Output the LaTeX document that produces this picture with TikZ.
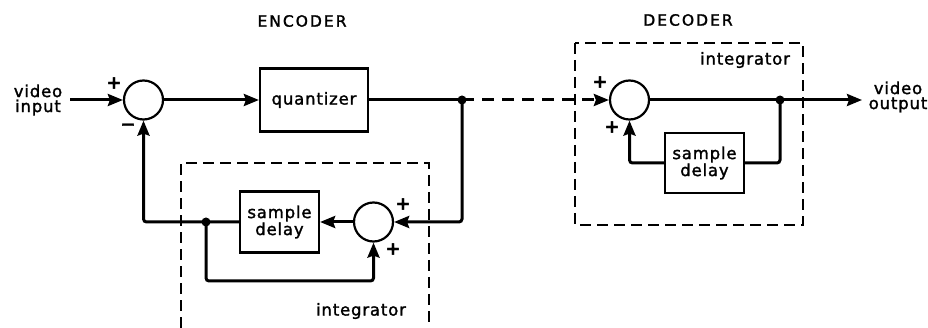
\documentclass[tikz,border=0pt]{standalone}
\usepackage{fontspec}
\setmainfont{DejaVu Sans}[LetterSpace=5,FakeBold=1.6]
\usetikzlibrary{arrows.meta}
\begin{document}
\begin{tikzpicture}[x=1pt,y=-1pt,
  every node/.style={font=\fontsize{16.5}{15}\selectfont},
  sumnode/.style={draw,circle,line width=2.2pt,minimum size=39pt,inner sep=0pt},
  blockbox/.style={draw,rectangle,line width=2.2pt,inner sep=0pt,align=center},
  sig/.style={line width=3pt,rounded corners=3pt},
  tip/.style={-{Stealth[length=15pt,width=12pt,inset=2pt]}},
  dashbox/.style={line width=2.2pt,dash pattern=on 11pt off 6pt},
  dot/.style={circle,fill,inner sep=0pt,minimum size=9pt},
  sign/.style={inner sep=0pt,font=\fontsize{18}{18}\selectfont\bfseries},
  title/.style={font=\fontsize{15.5}{15}\selectfont\addfontfeature{LetterSpace=13}}]
\useasboundingbox (0,0) rectangle (928,328);

% titles
\node[title] (enc) at (302,21) {ENCODER};
\node[title] (dec) at (688,20) {DECODER};

% dashed integrator boxes
\draw[dashbox] (181,328) -- (181,163) -- (429,163) -- (429,328);
\draw[dashbox] (575,43) rectangle (803,225);
\node (int1) at (361,311) {integrator};
\node (int2) at (745,60) {integrator};

% encoder blocks
\node[align=center,inner sep=0pt] (vin) at (38,100) {video\\input};
\node[sumnode] (s1) at (143.5,100) {};
\node[blockbox,minimum width=108pt,minimum height=63pt] (q) at (314,100) {quantizer};
\coordinate (j1) at (462,100);
\node[sumnode] (s2) at (373.5,222) {};
\node[blockbox,minimum width=79pt,minimum height=61pt] (d1) at (279.5,222) {sample\\delay};
\coordinate (j2) at (206,222);
\coordinate (lb) at (206,281);

% decoder blocks
\node[sumnode] (s3) at (629.5,100) {};
\node[blockbox,minimum width=79pt,minimum height=60pt] (d2) at (704.5,163) {sample\\delay};
\coordinate (j3) at (780,100);
\coordinate (vo) at (862,100);
\node[align=center,inner sep=0pt] (vout) at (898,97) {video\\output};

% encoder connections
\draw[sig,tip] (70,100) coordinate (vinend) -- (s1.west);
\draw[sig,tip] (s1.east) -- (q.west);
\draw[sig] (q.east) -- (j1);
\draw[sig,tip] (j1) |- (s2.east);
\draw[sig,tip] (s2.west) -- (d1.east);
\draw[sig,tip] (d1.west) -| (s1.south);
\draw[sig,tip] (j2) -- (lb) -| (s2.south);
\node[dot] at (j1) {};
\node[dot] at (j2) {};

% transmission
\draw[sig,tip,dash pattern=on 12pt off 8pt] (j1) -- (s3.west);

% decoder connections
\draw[sig] (s3.east) -- (j3);
\draw[sig,tip] (j3) -- (vo);
\draw[sig] (j3) |- (d2.east);
\draw[sig,tip] (d2.west) -| (s3.south);
\node[dot] at (j3) {};

% signs
\node[sign] at (114,83) {+};
\node[sign] at (128,127) {\textminus};
\node[sign] at (403,204) {+};
\node[sign] at (393,249) {+};
\node[sign] at (600,82) {+};
\node[sign] at (612,127) {+};
\end{tikzpicture}
\end{document}
